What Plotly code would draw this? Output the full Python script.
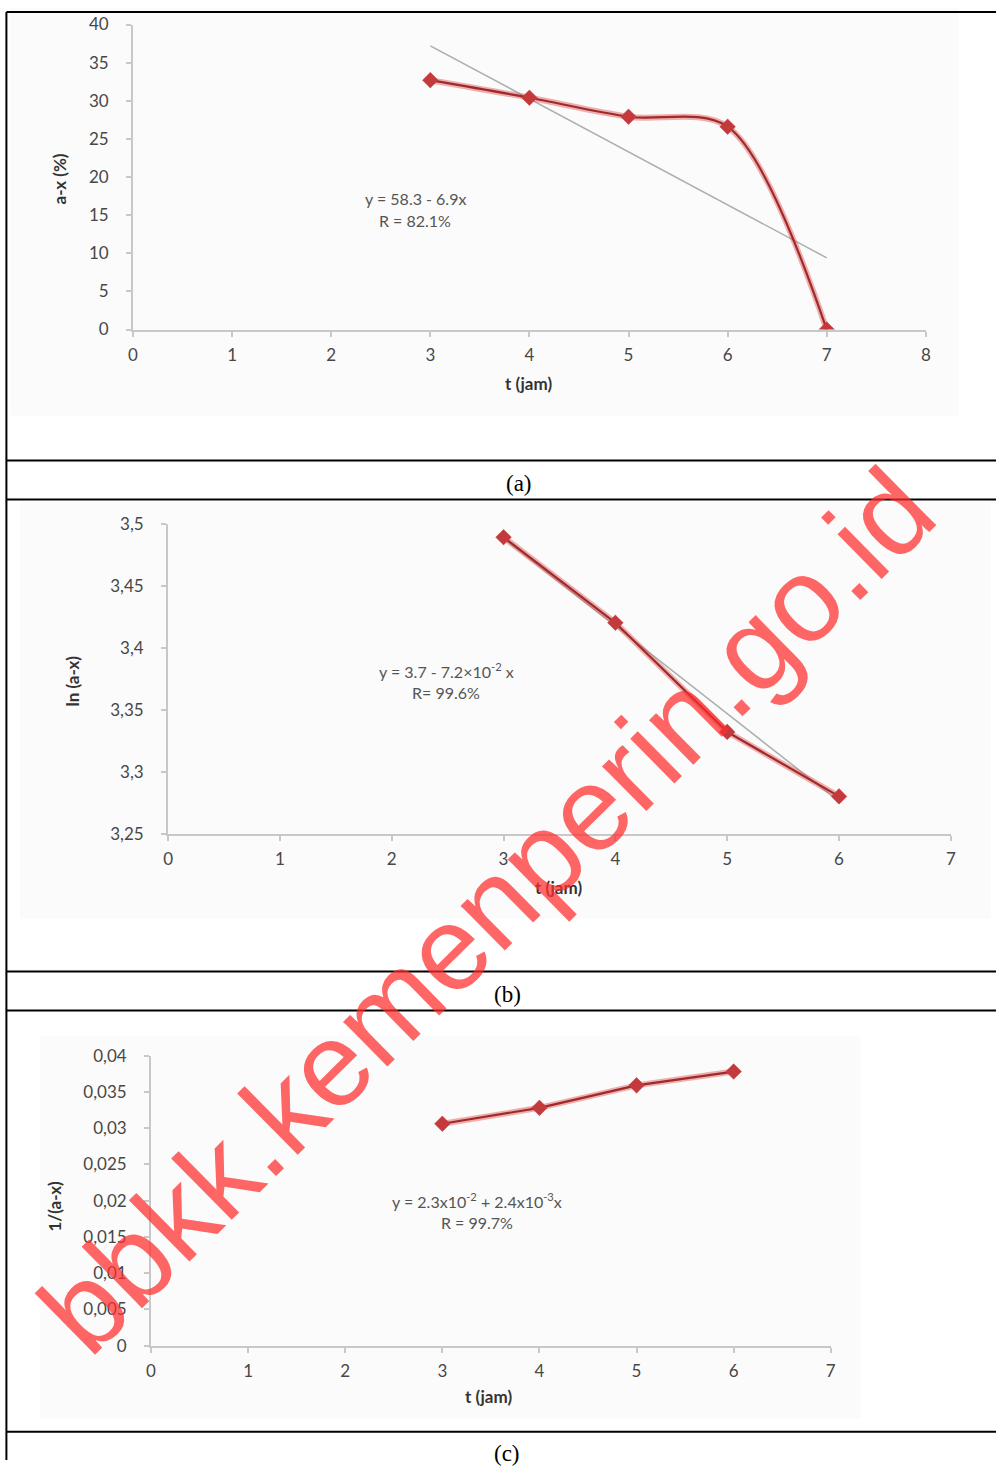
import plotly.graph_objects as go

W, H = 1001, 1470
# the photographed page is slightly inset/scaled; these compensate for it
SX, OX = 0.989, 5.1
SY, OY = 0.9856, 10.5

# ---------------- data ----------------
t_a = [3, 4, 5, 6, 7]
y_a = [32.7, 30.4, 27.9, 26.6, 0.0]
trend_a_x = [3, 7]
trend_a_y = [37.2, 9.4]

t_b = [3, 4, 5, 6]
y_b = [3.489, 3.420, 3.332, 3.280]
trend_b_x = [3, 6]
trend_b_y = [3.488, 3.276]

t_c = [3, 4, 5, 6]
y_c = [0.0306, 0.0328, 0.0359, 0.0378]

xticks_a = [0, 1, 2, 3, 4, 5, 6, 7, 8]
yticks_a = [0, 5, 10, 15, 20, 25, 30, 35, 40]
xticks_bc = [0, 1, 2, 3, 4, 5, 6, 7]
yticks_b = [3.25, 3.3, 3.35, 3.4, 3.45, 3.5]
yticks_b_txt = ["3,25", "3,3", "3,35", "3,4", "3,45", "3,5"]
yticks_c = [0, 0.005, 0.01, 0.015, 0.02, 0.025, 0.03, 0.035, 0.04]
yticks_c_txt = ["0", "0,005", "0,01", "0,015", "0,02", "0,025", "0,03", "0,035", "0,04"]


def px(x):
    return ((x - OX) / SX) / W


def py(y):
    return 1 - ((y - OY) / SY) / H


TICKFONT = dict(family="Lato, Open Sans, sans-serif", size=17, color="#474747")
LINE_DARK = "#9e2a2b"
GLOW = "rgba(225,80,80,0.45)"
MARK = "#c4393c"

fig = go.Figure()


def add_series(x, y, xa, ya, spline=False):
    shape = "spline" if spline else "linear"
    fig.add_trace(go.Scatter(x=x, y=y, xaxis=xa, yaxis=ya, mode="lines",
                             line=dict(color=GLOW, width=6, shape=shape, smoothing=0.9),
                             hoverinfo="skip", showlegend=False))
    fig.add_trace(go.Scatter(x=x, y=y, xaxis=xa, yaxis=ya, mode="lines+markers",
                             line=dict(color=LINE_DARK, width=2.2, shape=shape, smoothing=0.9),
                             marker=dict(symbol="diamond", size=12, color=MARK,
                                         line=dict(color="rgba(200,60,60,0.5)", width=1)),
                             showlegend=False))


# chart a
fig.add_trace(go.Scatter(x=trend_a_x, y=trend_a_y, xaxis="x", yaxis="y", mode="lines",
                         line=dict(color="#a8b0ad", width=1.5), showlegend=False))
add_series(t_a, y_a, "x", "y", spline=True)
# chart b
fig.add_trace(go.Scatter(x=trend_b_x, y=trend_b_y, xaxis="x2", yaxis="y2", mode="lines",
                         line=dict(color="#a8b0ad", width=1.5), showlegend=False))
add_series(t_b, y_b, "x2", "y2")
# chart c
add_series(t_c, y_c, "x3", "y3")

axis_common = dict(showline=True, linecolor="#c8c8c8", linewidth=2, ticks="outside",
                   ticklen=5, tickcolor="#c8c8c8", tickwidth=1.5, showgrid=False,
                   zeroline=False, tickfont=TICKFONT, fixedrange=True)

fig.update_layout(
    width=W, height=H, margin=dict(l=0, r=0, t=0, b=0),
    paper_bgcolor="white", plot_bgcolor="rgba(0,0,0,0)",
    xaxis=dict(domain=[px(133), px(925)], range=[0, 8], anchor="y",
               tickvals=xticks_a, ticklabelstandoff=4, **axis_common),
    yaxis=dict(domain=[py(329), py(24)], range=[0, 40], anchor="x",
               tickvals=yticks_a, ticklabelstandoff=14, **axis_common),
    xaxis2=dict(domain=[px(168), px(950)], range=[0, 7], anchor="y2",
                tickvals=xticks_bc, ticklabelstandoff=4, **axis_common),
    yaxis2=dict(domain=[py(833), py(523)], range=[3.25, 3.5], anchor="x2",
                tickvals=yticks_b, ticktext=yticks_b_txt, ticklabelstandoff=14, **axis_common),
    xaxis3=dict(domain=[px(151), px(830)], range=[0, 7], anchor="y3",
                tickvals=xticks_bc, ticklabelstandoff=4, **axis_common),
    yaxis3=dict(domain=[py(1345), py(1055)], range=[0, 0.04], anchor="x3",
                tickvals=yticks_c, ticktext=yticks_c_txt, ticklabelstandoff=14, **axis_common),
)

shapes = []
# faint image backgrounds
for (x0, y0, x1, y1) in [(10, 8, 958, 415), (20, 501, 990, 918), (40, 1035, 860, 1418)]:
    shapes.append(dict(type="rect", xref="paper", yref="paper", x0=px(x0), x1=px(x1),
                       y0=py(y1), y1=py(y0), fillcolor="#fbfbfb", line=dict(width=0), layer="below"))
# table lines
top_y = min(py(4), 0.9993)
shapes.append(dict(type="line", xref="paper", yref="paper", x0=px(6.5), x1=1,
                   y0=top_y, y1=top_y, line=dict(color="black", width=2)))
for yy in [460, 499, 971, 1010, 1431]:
    shapes.append(dict(type="line", xref="paper", yref="paper", x0=px(6.5), x1=1,
                       y0=py(yy), y1=py(yy), line=dict(color="black", width=2)))
shapes.append(dict(type="line", xref="paper", yref="paper", x0=px(6.5), x1=px(6.5),
                   y0=top_y, y1=0, line=dict(color="black", width=2)))
fig.update_layout(shapes=shapes)

LABEL = dict(family="Lato, Open Sans, sans-serif", size=17, color="#333333")
EQ = dict(family="Lato, Open Sans, sans-serif", size=16, color="#555555")
CAP = dict(family="Liberation Serif, Times New Roman, serif", size=23, color="black")

ann = []


def text(x, y, s, font, angle=0):
    ann.append(dict(x=px(x), y=py(y), xref="paper", yref="paper", text=s, showarrow=False,
                    font=font, textangle=angle, xanchor="center", yanchor="middle"))


# chart a texts
text(60, 178, "<b>a-x (%)</b>", LABEL, -90)
text(528, 383, "<b>t (jam)</b>", LABEL)
text(415, 198, "y = 58.3 - 6.9x", EQ)
text(415, 220, "R = 82.1%", EQ)
text(519, 483, "(a)", CAP)
# chart b texts
text(73, 680, "<b>ln (a-x)</b>", LABEL, -90)
text(558, 887, "<b>t (jam)</b>", LABEL)
text(446, 670, "y = 3.7 - 7.2×10<sup>-2</sup> x", EQ)
text(446, 692, "R= 99.6%", EQ)
text(507, 994, "(b)", CAP)
# chart c texts
text(55, 1205, "<b>1/(a-x)</b>", LABEL, -90)
text(488, 1396, "<b>t (jam)</b>", LABEL)
text(477, 1200, "y = 2.3x10<sup>-2</sup> + 2.4x10<sup>-3</sup>x", EQ)
text(477, 1222, "R = 99.7%", EQ)
text(507, 1453, "(c)", CAP)

# watermark
ann.append(dict(x=px(486), y=py(910), xref="paper", yref="paper",
                text="bbkk.kemenperin.go.id", showarrow=False, textangle=-44.6,
                font=dict(family="Liberation Sans, Arial, sans-serif", size=119,
                          color="rgba(255,45,45,0.72)"),
                xanchor="center", yanchor="middle"))
fig.update_layout(annotations=ann)

fig.write_html("out.html", config={"displayModeBar": False},
               post_script="document.body.style.margin='0';")
